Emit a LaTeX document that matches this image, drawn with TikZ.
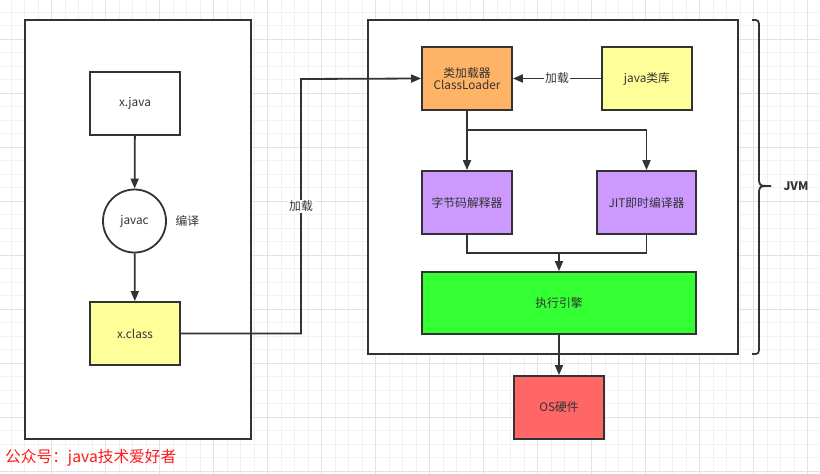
\documentclass[tikz,border=0pt]{standalone}
\usepackage{fontspec}
\setmainfont{Noto Sans CJK SC}
\usetikzlibrary{arrows.meta}
\definecolor{ink}{HTML}{333333}
\definecolor{loaderfill}{HTML}{FFB366}
\definecolor{libfill}{HTML}{FFFF99}
\definecolor{purplefill}{HTML}{CC99FF}
\definecolor{enginefill}{HTML}{33FF33}
\definecolor{osfill}{HTML}{FF6666}
\definecolor{gridminor}{HTML}{F2F2F2}
\definecolor{gridmajor}{HTML}{E3E3E3}
\definecolor{markred}{HTML}{FF1A1A}
\begin{document}
\begin{tikzpicture}
  [x=1pt,y=-1pt,every node/.style={text=ink,font=\fontsize{11.8}{13.5}\selectfont},
   box/.style={draw=ink,line width=1.8pt,minimum width=90pt,minimum height=63pt,inner sep=0pt},
   frame/.style={draw=ink,line width=1.8pt,fill=white,inner sep=0pt},
   arr/.style={draw=ink,line width=1.8pt,-{Triangle[length=10pt,width=8pt]}},
   plain/.style={draw=ink,line width=1.8pt},
   tag/.style={fill=white,inner sep=1pt}]
  \useasboundingbox (0,0) rectangle (820,474);
  \fill[white] (0,0) rectangle (820,474);
  % background grid
  \foreach \gx in {11.2,24.7,...,820} \draw[gridminor,line width=0.8pt] (\gx,0) -- (\gx,474);
  \foreach \gy in {12,25.5,...,474} \draw[gridminor,line width=0.8pt] (0,\gy) -- (820,\gy);
  \foreach \gx in {51.7,105.7,...,820} \draw[gridmajor,line width=0.8pt] (\gx,0) -- (\gx,474);
  \foreach \gy in {39,93,...,474} \draw[gridmajor,line width=0.8pt] (0,\gy) -- (820,\gy);

  % containers
  \node (host) [frame,minimum width=226pt,minimum height=419pt] at (138,229.5) {};
  \node (vm) [frame,minimum width=370pt,minimum height=334pt] at (553,187) {};

  \node (src) [box] at (135,103.5) {x.java};
  \node (javac) [draw=ink,line width=1.8pt,circle,minimum size=63pt,inner sep=0pt] at (134.5,221) {javac};
  \node (compile) [anchor=west] at (172,221) {编译};
  \node (cls) [box,fill=libfill] at (135,333.5) {x.class};

  \node (loader) [box,fill=loaderfill,align=center] at (467,78.5) {类加载器\\[-2pt]ClassLoader};
  \node (lib) [box,fill=libfill] at (647,78.5) {java类库};
  \node (interp) [box,fill=purplefill] at (467,202.5) {字节码解释器};
  \node (jit) [box,fill=purplefill,minimum width=99pt] at (646.5,202.5) {JIT即时编译器};
  \node (engine) [box,fill=enginefill,minimum width=274pt,minimum height=62pt] at (559,303) {执行引擎};
  \node (os) [box,fill=osfill] at (559,407.5) {OS硬件};

  \coordinate (load) at (301,79);
  \coordinate (split) at (467,130);
  \coordinate (merge) at (559,253);

  \draw[arr] (src) -- (javac);
  \draw[arr] (javac) -- (cls);
  \draw[arr] (cls.east) -| (load) node[tag,pos=0.75] {加载} -- (loader.west);
  \draw[arr] (lib) -- node[tag] {加载} (loader);
  \draw[arr] (loader) -- (interp);
  \draw[arr] (split) -| (jit.north);
  \draw[plain] (interp.south) |- (merge) -| (jit.south);
  \draw[arr] (merge) -- (engine.north);
  \draw[arr] (engine) -- (os);

  % brace
  \draw[ink,line width=1.8pt] (752,20) .. controls (759,20) .. (759,28) -- (759,177)
    .. controls (759,186) .. (771,186) .. controls (759,186) .. (759,195) -- (759,346)
    .. controls (759,354) .. (752,354);
  \node (jvm) [anchor=west,font=\fontsize{11.8}{13.5}\selectfont\bfseries] at (780,186) {JVM};

  \node (mark) [anchor=west,text=markred,inner sep=0pt,font=\fontsize{15.7}{18}\selectfont] at (5,458) {公众号：java技术爱好者};
\end{tikzpicture}
\end{document}
